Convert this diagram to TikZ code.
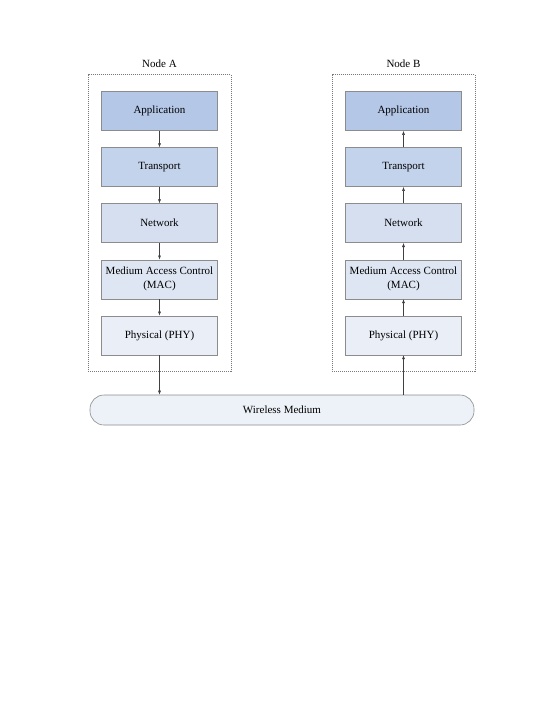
\documentclass[tikz,border=0pt]{standalone}
\usepackage{fontspec}
\setmainfont{Liberation Serif}
\usetikzlibrary{positioning,arrows.meta,fit}
\definecolor{appblue}{HTML}{B4C7E7}
\definecolor{trnblue}{HTML}{C4D3EC}
\definecolor{netblue}{HTML}{D5DFF0}
\definecolor{macblue}{HTML}{DFE6F3}
\definecolor{phyblue}{HTML}{E9EEF7}
\definecolor{medblue}{HTML}{EDF1F8}
\definecolor{boxgray}{HTML}{8C8C8C}
\definecolor{dashgray}{HTML}{7A7A7A}
\definecolor{arrowgray}{HTML}{404040}
\tikzset{
    every node/.style={font=\fontsize{11}{14}\selectfont},
    layer/.style={rectangle,draw=boxgray,line width=0.6pt,minimum width=116pt,minimum height=39pt,inner sep=2pt,align=center},
    hostbox/.style={draw=dashgray,dash pattern=on 1pt off 1pt,line width=0.5pt,inner xsep=13pt,inner ysep=16.5pt},
    medium/.style={rectangle,rounded corners=14pt,draw=boxgray,line width=0.6pt,fill=medblue,minimum width=384pt,minimum height=30pt},
    flow/.style={draw=arrowgray,line width=0.5pt,-{Latex[length=4pt,width=3pt]}}
}
\begin{document}
\begin{tikzpicture}[x=1pt,y=-1pt,node distance=16.5pt]
    \useasboundingbox[fill=white] (0,0) rectangle (553,715);
    % Node A stack (top down)
    \node[layer,fill=appblue] (appA) at (159.5,111) {Application};
    \node[layer,fill=trnblue,below=of appA] (trnA) {Transport};
    \node[layer,fill=netblue,below=of trnA] (netA) {Network};
    \node[layer,fill=macblue,below=of netA] (macA) {Medium Access Control\\(MAC)};
    \node[layer,fill=phyblue,below=of macA] (phyA) {Physical (PHY)};
    % Node B stack
    \node[layer,fill=appblue] (appB) at (403.5,111) {Application};
    \node[layer,fill=trnblue,below=of appB] (trnB) {Transport};
    \node[layer,fill=netblue,below=of trnB] (netB) {Network};
    \node[layer,fill=macblue,below=of netB] (macB) {Medium Access Control\\(MAC)};
    \node[layer,fill=phyblue,below=of macB] (phyB) {Physical (PHY)};
    % dashed host frames
    \node[hostbox,fit=(appA)(phyA)] (hostA) {};
    \node[hostbox,fit=(appB)(phyB)] (hostB) {};
    \node[above=3pt of hostA.north] (titleA) {Node A};
    \node[above=3pt of hostB.north] (titleB) {Node B};
    % shared channel
    \node[medium] (air) at (282,410) {Wireless Medium};
    % data flow
    \draw[flow] (appA) -- (trnA);
    \draw[flow] (trnA) -- (netA);
    \draw[flow] (netA) -- (macA);
    \draw[flow] (macA) -- (phyA);
    \draw[flow] (phyA.south) -- (phyA.south |- air.north);
    \draw[flow] (phyB.south |- air.north) -- (phyB.south);
    \draw[flow] (phyB) -- (macB);
    \draw[flow] (macB) -- (netB);
    \draw[flow] (netB) -- (trnB);
    \draw[flow] (trnB) -- (appB);
\end{tikzpicture}
\end{document}
